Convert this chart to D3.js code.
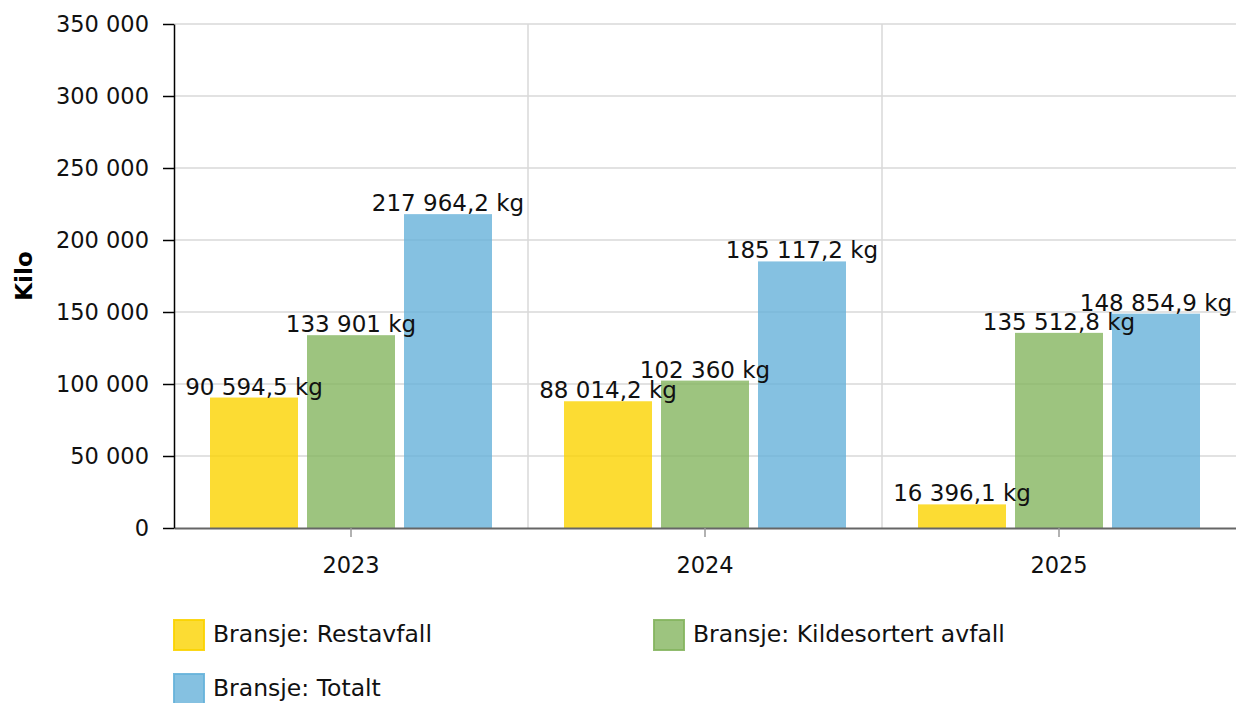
<!DOCTYPE html>
<html>
<head>
<meta charset="utf-8">
<script src="https://cdn.jsdelivr.net/npm/d3@7"></script>
<style>
  html, body { margin: 0; padding: 0; background: #fff; }
  svg { display: block; font-family: "DejaVu Sans", Verdana, sans-serif; }
</style>
</head>
<body>
<svg id="chart" width="1236" height="703"></svg>
<script>
const years = ["2023", "2024", "2025"];
const seriesNames = ["Bransje: Restavfall", "Bransje: Kildesortert avfall", "Bransje: Totalt"];
const restavfall = [90594.5, 88014.2, 16396.1];
const kildesortert = [133901, 102360, 135512.8];
const totalt = [217964.2, 185117.2, 148854.9];
const yTicks = [0, 50000, 100000, 150000, 200000, 250000, 300000, 350000];
const colors = ["#fbd300", "#85b55f", "#66b2da"];
const yTitle = "Kilo";

const seriesValues = [restavfall, kildesortert, totalt];

const svg = d3.select("#chart");
const pLeft = 174, pRight = 1236, pTop = 24, pBottom = 528;

const x0 = d3.scaleBand().domain(years).range([pLeft, pRight]).paddingInner(0).paddingOuter(0);
const x1 = d3.scaleBand().domain(d3.range(3)).range([36, x0.bandwidth() - 36]).paddingInner(9 / 97).paddingOuter(0);
const y = d3.scaleLinear().domain([0, 350000]).range([pBottom, pTop]);

const fmtNum = v => d3.format(",")(v).replace(/,/g, "\u00a0").replace(".", ",");
const tickFmt = v => d3.format(",")(v).replace(/,/g, " ");

// gridlines horizontal
svg.append("g").selectAll("line").data(yTicks.filter(t => t > 0)).join("line")
  .attr("x1", pLeft).attr("x2", pRight)
  .attr("y1", d => y(d)).attr("y2", d => y(d))
  .attr("stroke", "#d9d9d9").attr("stroke-width", 1.5);

// vertical gridlines at band boundaries
svg.append("g").selectAll("line").data(years.slice(1)).join("line")
  .attr("x1", d => x0(d)).attr("x2", d => x0(d))
  .attr("y1", pTop).attr("y2", pBottom)
  .attr("stroke", "#d9d9d9").attr("stroke-width", 1.5);

// bars
const groups = svg.append("g").selectAll("g").data(years).join("g")
  .attr("transform", d => `translate(${x0(d)},0)`);

groups.each(function(yr, i) {
  const g = d3.select(this);
  seriesValues.forEach((vals, s) => {
    g.append("rect")
      .attr("x", x1(s))
      .attr("width", x1.bandwidth())
      .attr("y", y(vals[i]))
      .attr("height", y(0) - y(vals[i]))
      .attr("fill", colors[s])
      .attr("fill-opacity", 0.8);
  });
});

// x axis
const xAxis = d3.axisBottom(x0).tickSizeInner(9).tickSizeOuter(0).tickPadding(20);
const gx = svg.append("g").attr("transform", `translate(0,${pBottom})`).call(xAxis);
gx.select(".domain").attr("stroke", "#666").attr("stroke-width", 2);
gx.selectAll(".tick line").attr("stroke", "#999").attr("stroke-width", 1.5);
gx.selectAll(".tick text").attr("font-size", 22.5).attr("fill", "#111")
  .attr("font-family", "DejaVu Sans, Verdana, sans-serif");

// y axis
const yAxis = d3.axisLeft(y).tickValues(yTicks).tickFormat(tickFmt).tickSizeInner(11).tickSizeOuter(0).tickPadding(14);
const gy = svg.append("g").attr("transform", `translate(${pLeft},0)`).call(yAxis);
gy.select(".domain").attr("stroke", "#000").attr("stroke-width", 1.5);
gy.selectAll(".tick line").attr("stroke", "#000").attr("stroke-width", 1.5);
gy.selectAll(".tick text").attr("font-size", 22.5).attr("fill", "#111")
  .attr("font-family", "DejaVu Sans, Verdana, sans-serif");

// value labels
groups.each(function(yr, i) {
  const g = d3.select(this);
  seriesValues.forEach((vals, s) => {
    g.append("text")
      .attr("x", x1(s) + x1.bandwidth() / 2)
      .attr("y", y(vals[i]) - 3)
      .attr("text-anchor", "middle")
      .attr("font-size", 23)
      .attr("fill", "#111")
      .text(fmtNum(vals[i]) + " kg");
  });
});

// y title
svg.append("text")
  .attr("transform", `translate(32,${(pTop + pBottom) / 2}) rotate(-90)`)
  .attr("text-anchor", "middle")
  .attr("font-size", 23)
  .attr("font-weight", "bold")
  .attr("fill", "#000")
  .text(yTitle);

// legend
const legendPos = [[173, 619], [653, 619], [173, 673]];
const lg = svg.append("g").selectAll("g").data(seriesNames).join("g")
  .attr("transform", (d, i) => `translate(${legendPos[i][0]},${legendPos[i][1]})`);
lg.append("rect")
  .attr("x", 1).attr("y", 1).attr("width", 30).attr("height", 30)
  .attr("fill", (d, i) => colors[i]).attr("fill-opacity", 0.8)
  .attr("stroke", (d, i) => colors[i]).attr("stroke-width", 2).attr("stroke-opacity", 0.9);
lg.append("text")
  .attr("x", 40).attr("y", 23)
  .attr("font-size", 23.5)
  .attr("fill", "#111")
  .text(d => d);
</script>
</body>
</html>
